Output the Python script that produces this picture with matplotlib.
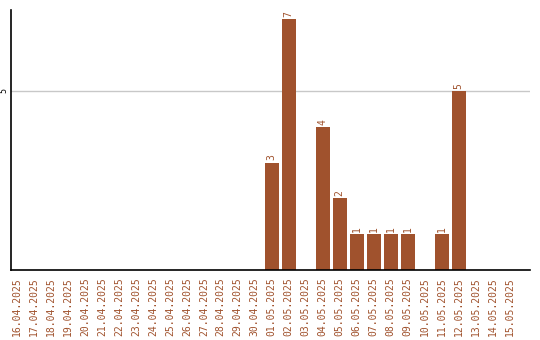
import numpy as np
import matplotlib
matplotlib.use("Agg")
import matplotlib.pyplot as plt

dates = ["16.04.2025", "17.04.2025", "18.04.2025", "19.04.2025", "20.04.2025",
         "21.04.2025", "22.04.2025", "23.04.2025", "24.04.2025", "25.04.2025",
         "26.04.2025", "27.04.2025", "28.04.2025", "29.04.2025", "30.04.2025",
         "01.05.2025", "02.05.2025", "03.05.2025", "04.05.2025", "05.05.2025",
         "06.05.2025", "07.05.2025", "08.05.2025", "09.05.2025", "10.05.2025",
         "11.05.2025", "12.05.2025", "13.05.2025", "14.05.2025", "15.05.2025"]
counts = [0, 0, 0, 0, 0, 0, 0, 0, 0, 0, 0, 0, 0, 0, 0,
          3, 7, 0, 4, 2, 1, 1, 1, 1, 0, 1, 5, 0, 0, 0]

color = "#A0522D"
mono = "DejaVu Sans Mono"

fig = plt.figure(figsize=(5.4, 3.4), dpi=100)
ax = fig.add_axes([11 / 540, 1 - 270 / 340, 519 / 540, 260 / 340])

x = np.arange(len(dates))
ax.bar(x, counts, width=0.82, color=color, zorder=2)
for xi, c in zip(x, counts):
    if c > 0:
        ax.text(xi, c + 0.06, str(c), rotation=90, ha="center", va="bottom",
                color=color, fontsize=7, family=mono)

ax.set_xlim(-0.35, 30.2)
ax.set_ylim(0, 7.26)
ax.set_yticks([5])
ax.set_yticklabels(["5"], rotation=90, va="center", fontsize=6, family=mono)
ax.tick_params(axis="y", length=0, pad=2)
ax.axhline(5, color="#c8c8c8", lw=1, zorder=1)

ax.set_xticks(x)
ax.set_xticklabels(dates, rotation=90, color=color, fontsize=7, family=mono)
ax.tick_params(axis="x", length=0, pad=5)

ax.spines["top"].set_visible(False)
ax.spines["right"].set_visible(False)
ax.spines["left"].set_linewidth(1.2)
ax.spines["bottom"].set_linewidth(1.2)

fig.savefig("out.png", dpi=100)
